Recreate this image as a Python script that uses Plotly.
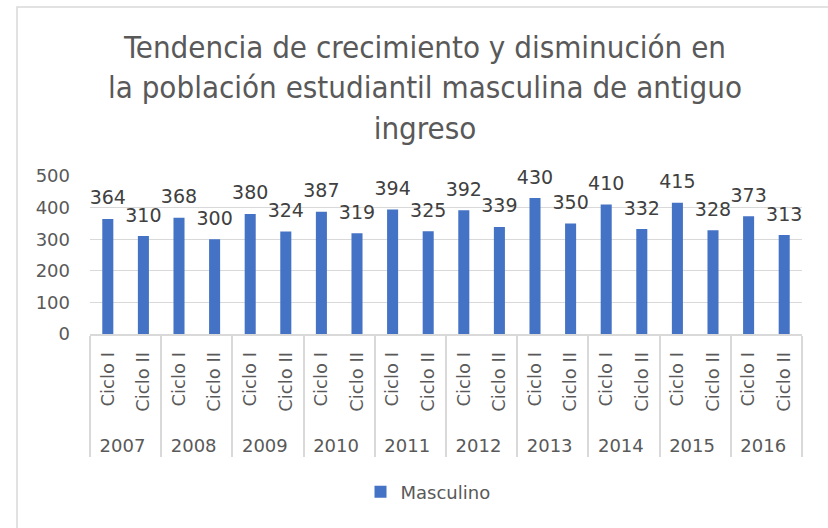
import plotly.graph_objects as go

years = ["2007", "2008", "2009", "2010", "2011", "2012", "2013", "2014", "2015", "2016"]
cycles = ["Ciclo I", "Ciclo II"]
masculino = [364, 310, 368, 300, 380, 324, 387, 319, 394, 325,
             392, 339, 430, 350, 410, 332, 415, 328, 373, 313]

year_level = [y for y in years for _ in cycles]
# padded display labels (spacing only) so the rotated labels sit like the original
cycle_level = ["\u00a0" + c + "\u2002" for _ in years for c in cycles]

W, H = 828, 528
L, R, T, B = 90, 26, 176, 194
pw, ph = W - L - R, H - T - B

def px_x(x):
    return (x - L) / pw

def px_y(y):
    return (H - B - y) / ph

fig = go.Figure()
fig.add_trace(go.Bar(
    x=[year_level, cycle_level],
    y=masculino,
    name="Masculino",
    marker=dict(color="#4472C4", line=dict(width=0)),
    showlegend=True,
    hoverinfo="skip",
))
fig.add_trace(go.Scatter(
    x=[year_level, cycle_level],
    y=masculino,
    mode="markers+text",
    marker=dict(size=14, opacity=0, color="#4472C4"),
    text=[str(v) for v in masculino],
    textposition="top center",
    textfont=dict(family="DejaVu Sans", size=19, color="#404040"),
    cliponaxis=False,
    showlegend=False,
    hoverinfo="skip",
))

n = len(masculino)
fig.update_layout(
    width=W, height=H,
    margin=dict(l=L, r=R, t=T, b=B, autoexpand=False),
    paper_bgcolor="white",
    plot_bgcolor="white",
    bargap=0.69,
    font=dict(family="DejaVu Sans", color="#595959", size=18),
    title=dict(
        text="Tendencia de crecimiento y disminución en<br>la población estudiantil masculina de antiguo<br>ingreso",
        x=425 / W, xref="container", xanchor="center",
        y=1 - 58 / H, yref="container", yanchor="top",
        font=dict(family="DejaVu Sans Condensed", size=31, color="#595959"),
    ),
    xaxis=dict(
        type="multicategory",
        range=[-0.5, n - 0.5],
        tickangle=-90,
        showline=True, linecolor="#D9D9D9", linewidth=1.5,
        showgrid=False,
        ticks="",
        showdividers=True, dividercolor="#D9D9D9", dividerwidth=1.5,
        tickfont=dict(family="DejaVu Sans", size=18, color="#595959"),
        automargin=False,
    ),
    yaxis=dict(
        range=[0, 500], dtick=100,
        showgrid=True, gridcolor="#D9D9D9", gridwidth=1.2,
        zeroline=False, showline=False, ticks="",
        ticklabelstandoff=19,
        tickfont=dict(family="DejaVu Sans", size=18, color="#595959"),
        automargin=False,
    ),
    legend=dict(
        orientation="h",
        x=px_x(428), xanchor="center",
        y=1 - 492 / H, yref="container", yanchor="middle",
        font=dict(family="DejaVu Sans", size=18, color="#595959"),
        itemwidth=30,
    ),
    shapes=[dict(
        type="rect", xref="paper", yref="paper",
        x0=px_x(17), x1=px_x(840), y0=px_y(540), y1=px_y(7),
        line=dict(color="#D9D9D9", width=1.5), fillcolor="rgba(0,0,0,0)",
        layer="below",
    )],
)

fig.write_html("out.html", config={"displayModeBar": False},
               post_script="document.body.style.margin='0';")
